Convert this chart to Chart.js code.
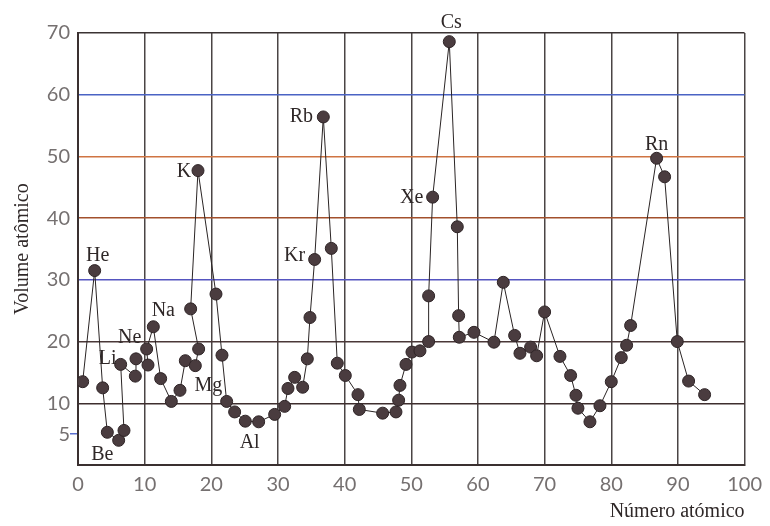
<!DOCTYPE html>
<html>
<head>
<meta charset="utf-8">
<script src="https://cdn.jsdelivr.net/npm/chart.js@4.4.1/dist/chart.umd.min.js"></script>
<style>
  html, body { margin: 0; padding: 0; background: #fff; }
</style>
</head>
<body>
<canvas id="chart" width="770" height="526"></canvas>
<script>
// ── Data (in drawing order) ─────────────────────────────────────────────────
const atomicNumber = [
  0.7, 2.5, 3.7, 4.4, 6.1, 6.9, 6.4, 8.6, 8.7, 10.5,
  10.3, 11.3, 12.4, 14.0, 15.3, 16.1, 17.6, 18.1, 16.9, 18.0,
  20.7, 21.6, 22.3, 23.5, 25.1, 27.1, 29.5, 31.0, 31.5, 32.5,
  33.7, 34.4, 34.8, 35.5, 36.8, 38.0, 38.9, 40.1, 42.0, 42.2,
  45.7, 47.7, 48.1, 48.3, 49.2, 50.1, 51.3, 52.6, 52.6, 53.2,
  55.7, 56.9, 57.1, 57.2, 59.4, 62.4, 63.8, 65.5, 66.3, 67.9,
  68.8, 70.0, 72.3, 73.9, 74.7, 75.0, 76.8, 78.3, 80.0, 81.5,
  82.3, 82.9, 86.8, 88.0, 89.9, 91.6, 94.0
];
const atomicVolume = [
  13.5, 31.5, 12.5, 5.3, 4.0, 5.6, 16.3, 14.4, 17.2, 16.2,
  18.8, 22.4, 14.0, 10.3, 12.1, 16.9, 16.1, 18.8, 25.3, 47.7,
  27.7, 17.8, 10.3, 8.6, 7.1, 7.0, 8.2, 9.5, 12.4, 14.2,
  12.6, 17.2, 23.9, 33.3, 56.4, 35.1, 16.5, 14.5, 11.4, 9.0,
  8.4, 8.6, 10.5, 12.9, 16.3, 18.3, 18.5, 20.0, 27.4, 43.4,
  68.6, 38.6, 24.2, 20.7, 21.5, 19.9, 29.6, 21.0, 18.1, 19.1,
  17.7, 24.8, 17.6, 14.5, 11.3, 9.2, 7.0, 9.6, 13.5, 17.4,
  19.4, 22.6, 49.7, 46.7, 20.0, 13.6, 11.4
];

// element symbols written next to some of the points
const labelIndex = [1, 6, 3, 10, 11, 16, 19, 25, 33, 34, 49, 50, 72];
const labelText  = ['He', 'Li', 'Be', 'Ne', 'Na', 'Mg', 'K', 'Al', 'Kr', 'Rb', 'Xe', 'Cs', 'Rn'];

const xTickValues = [0, 10, 20, 30, 40, 50, 60, 70, 80, 90, 100];
const yTickValues = [0, 5, 10, 20, 30, 40, 50, 60, 70];

// ── Styles ──────────────────────────────────────────────────────────────────
const SERIF = '"Liberation Serif", "DejaVu Serif", serif';
const TICK_FONT = { family: 'Lato, "Noto Sans", sans-serif', size: 20 };
const TICK_COLOR = '#757070';
const INK = '#2f2828';
const NONE = 'rgba(0,0,0,0)';

// coloured horizontal rules, as printed
const Y_GRID = {
  10: '#3e2e2e', 20: '#4a3838', 30: '#5555c0', 40: '#a2502c',
  50: '#cf7442', 60: '#4a63c4', 70: '#3b3333'
};

// text offsets from the point they belong to
const LABEL_OFFSETS = [
  [3, -15], [-13, -6], [-5, 22], [-17, -11], [10, -16], [13, 20], [-14, 1],
  [-9, 21], [-20, -4], [-22, 0], [-21, 1], [2, -19], [0, -14]
];

const symbolLabels = {
  id: 'symbolLabels',
  afterDatasetsDraw(chart) {
    const meta = chart.getDatasetMeta(0);
    const ctx = chart.ctx;
    ctx.save();
    ctx.font = `20px ${SERIF}`;
    ctx.fillStyle = INK;
    ctx.textAlign = 'center';
    ctx.textBaseline = 'middle';
    labelIndex.forEach((idx, i) => {
      const pt = meta.data[idx];
      if (!pt) return;
      const [dx, dy] = LABEL_OFFSETS[i];
      ctx.fillText(labelText[i], pt.x + dx, pt.y + dy);
    });
    ctx.restore();
  }
};

const points = atomicNumber.map((x, i) => ({ x, y: atomicVolume[i] }));

new Chart(document.getElementById('chart'), {
  type: 'scatter',
  data: {
    datasets: [{
      data: points,
      showLine: true,
      borderColor: '#2a2424',
      borderWidth: 1,
      pointRadius: 6,
      pointHoverRadius: 6,
      pointBackgroundColor: '#4a3c3f',
      pointBorderColor: '#2e2426',
      pointBorderWidth: 1,
    }],
  },
  options: {
    responsive: false,
    animation: false,
    layout: { padding: { top: 33, right: 23, left: 0, bottom: 0 } },
    plugins: { legend: { display: false }, tooltip: { enabled: false } },
    scales: {
      x: {
        type: 'linear',
        min: 0,
        max: 100,
        afterBuildTicks: (scale) => { scale.ticks = xTickValues.map(value => ({ value })); },
        afterFit: (scale) => { scale.height = 61; },
        ticks: { font: TICK_FONT, color: TICK_COLOR, padding: 8, maxRotation: 0, autoSkip: false },
        grid: {
          color: (c) => (c.tick && c.tick.value === 0 ? NONE : '#4a4444'),
          lineWidth: 1.5,
          drawTicks: false,
        },
        border: { color: '#3a3030', width: 2 },
        title: {
          display: true,
          text: 'Número atómico',
          align: 'end',
          color: INK,
          font: { family: SERIF, size: 20 },
          padding: { top: 0, bottom: 2 },
        },
      },
      y: {
        type: 'linear',
        min: 0,
        max: 70,
        afterBuildTicks: (scale) => { scale.ticks = yTickValues.map(value => ({ value })); },
        afterFit: (scale) => { scale.width = 78; },
        ticks: {
          font: TICK_FONT,
          color: TICK_COLOR,
          padding: 0,
          autoSkip: false,
          callback: (v) => (v === 0 ? '' : v),
        },
        grid: {
          color: (c) => (c.tick ? Y_GRID[c.tick.value] || NONE : NONE),
          tickColor: (c) => (c.tick && c.tick.value === 5 ? '#5a6fd0' : NONE),
          tickLength: 8,
          lineWidth: 1.5,
        },
        border: { color: '#3a3030', width: 2 },
        title: {
          display: true,
          text: 'Volume atômico',
          color: INK,
          font: { family: SERIF, size: 20 },
          padding: { top: 11, bottom: 0 },
        },
      },
    },
  },
  plugins: [symbolLabels],
});
</script>
</body>
</html>
